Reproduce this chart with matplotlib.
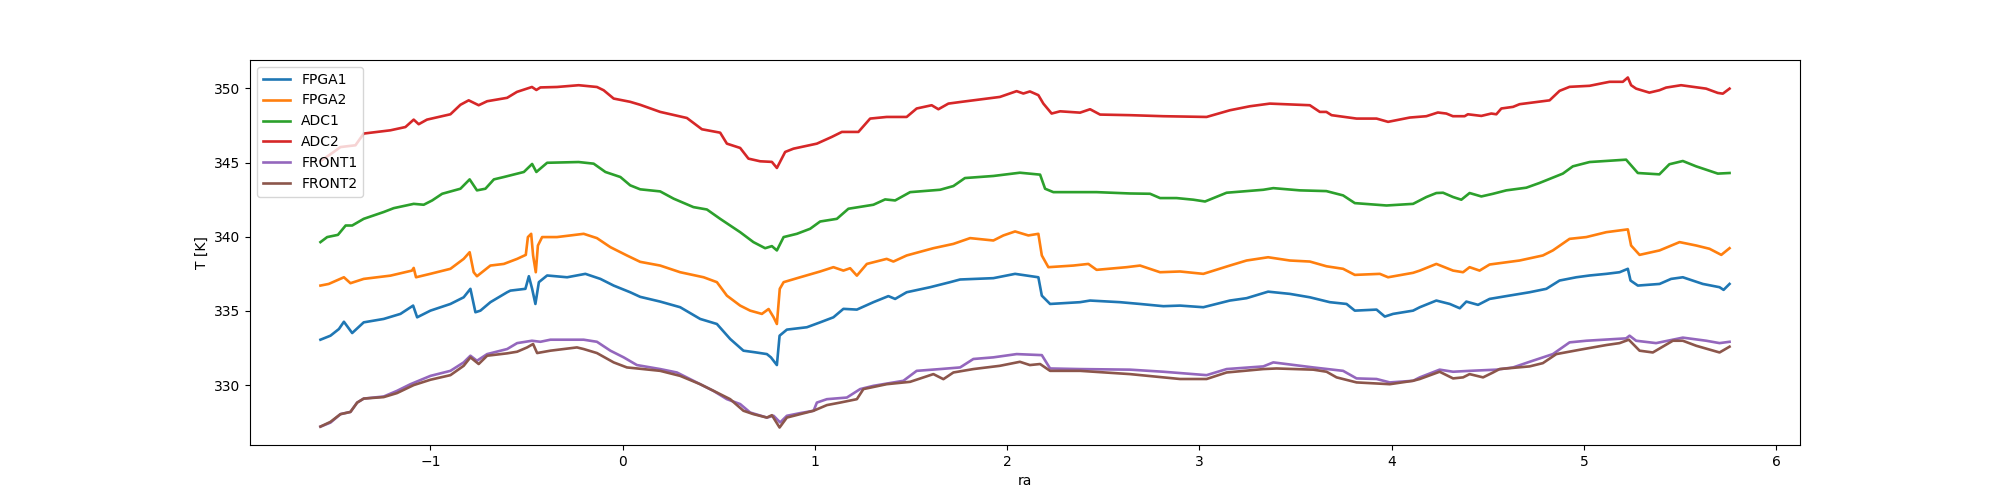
import matplotlib
matplotlib.use("Agg")
import matplotlib.pyplot as plt
import numpy as np

labels = ["FPGA1", "FPGA2", "ADC1", "ADC2", "FRONT1", "FRONT2"]

fpga1 = [(-1.572, 333.06), (-1.52, 333.33), (-1.476, 333.78), (-1.45, 334.27), (-1.407, 333.51),
         (-1.347, 334.23), (-1.243, 334.46), (-1.156, 334.8), (-1.09, 335.36), (-1.069, 334.57),
         (-1.0, 335.02), (-0.896, 335.47), (-0.827, 335.92), (-0.792, 336.49), (-0.766, 334.91),
         (-0.74, 335.02), (-0.688, 335.59), (-0.601, 336.26), (-0.584, 336.37), (-0.506, 336.49),
         (-0.488, 337.34), (-0.471, 336.49), (-0.454, 335.47), (-0.436, 336.94), (-0.393, 337.39),
         (-0.289, 337.27), (-0.194, 337.5), (-0.116, 337.16), (-0.047, 336.71), (0.039, 336.26),
         (0.091, 335.95), (0.195, 335.63), (0.299, 335.25), (0.403, 334.46), (0.49, 334.12),
         (0.559, 333.11), (0.628, 332.32), (0.689, 332.21), (0.75, 332.09), (0.771, 331.87),
         (0.802, 331.35), (0.816, 333.33), (0.854, 333.74), (0.958, 333.9), (1.027, 334.23),
         (1.096, 334.57), (1.148, 335.14), (1.218, 335.09), (1.304, 335.59), (1.382, 336.0),
         (1.417, 335.81), (1.477, 336.26), (1.599, 336.6), (1.703, 336.94), (1.755, 337.12),
         (1.928, 337.21), (2.041, 337.5), (2.162, 337.27), (2.180, 336.03), (2.223, 335.47),
         (2.379, 335.59), (2.431, 335.7), (2.587, 335.59), (2.691, 335.47), (2.812, 335.32),
         (2.899, 335.36), (3.020, 335.25), (3.158, 335.7), (3.245, 335.86), (3.357, 336.3),
         (3.47, 336.15), (3.574, 335.92), (3.678, 335.59), (3.765, 335.47), (3.808, 335.02),
         (3.921, 335.09), (3.964, 334.62), (4.007, 334.8), (4.111, 335.02), (4.146, 335.25),
         (4.232, 335.7), (4.302, 335.47), (4.354, 335.18), (4.388, 335.63), (4.449, 335.41),
         (4.509, 335.81), (4.596, 336.0), (4.717, 336.26), (4.804, 336.49), (4.873, 337.05),
         (4.960, 337.27), (5.029, 337.39), (5.116, 337.5), (5.185, 337.61), (5.228, 337.84),
         (5.242, 337.05), (5.280, 336.71), (5.393, 336.82), (5.453, 337.16), (5.514, 337.27),
         (5.618, 336.82), (5.705, 336.6), (5.726, 336.42), (5.757, 336.82)]

fpga2 = [(-1.572, 336.71), (-1.529, 336.82), (-1.45, 337.27), (-1.416, 336.87), (-1.347, 337.16),
         (-1.208, 337.38), (-1.096, 337.72), (-1.087, 337.9), (-1.075, 337.27), (-1.001, 337.5),
         (-0.896, 337.84), (-0.827, 338.51), (-0.796, 338.96), (-0.775, 337.61), (-0.758, 337.34),
         (-0.688, 338.06), (-0.618, 338.17), (-0.549, 338.51), (-0.504, 338.78), (-0.493, 339.98),
         (-0.476, 340.2), (-0.466, 338.74), (-0.452, 337.61), (-0.441, 339.41), (-0.419, 339.98),
         (-0.342, 339.98), (-0.272, 340.09), (-0.203, 340.2), (-0.134, 339.91), (-0.064, 339.3),
         (0.022, 338.74), (0.091, 338.31), (0.195, 338.06), (0.299, 337.61), (0.421, 337.27),
         (0.49, 336.94), (0.542, 336.03), (0.611, 335.36), (0.663, 335.02), (0.724, 334.8),
         (0.759, 335.13), (0.785, 334.57), (0.802, 334.12), (0.817, 336.49), (0.837, 336.94),
         (0.923, 337.27), (1.027, 337.66), (1.096, 337.95), (1.148, 337.72), (1.183, 337.88),
         (1.218, 337.38), (1.27, 338.17), (1.373, 338.51), (1.408, 338.33), (1.477, 338.74),
         (1.616, 339.23), (1.72, 339.52), (1.807, 339.91), (1.928, 339.75), (1.98, 340.09),
         (2.041, 340.36), (2.11, 340.09), (2.162, 340.2), (2.180, 338.74), (2.214, 337.95),
         (2.344, 338.06), (2.422, 338.17), (2.465, 337.77), (2.621, 337.95), (2.691, 338.06),
         (2.795, 337.61), (2.899, 337.66), (3.02, 337.5), (3.158, 338.06), (3.245, 338.4),
         (3.357, 338.62), (3.470, 338.4), (3.574, 338.33), (3.661, 338.01), (3.747, 337.84),
         (3.808, 337.43), (3.938, 337.5), (3.981, 337.27), (4.111, 337.57), (4.146, 337.72),
         (4.232, 338.17), (4.319, 337.72), (4.371, 337.61), (4.405, 337.95), (4.457, 337.72),
         (4.509, 338.13), (4.665, 338.4), (4.786, 338.74), (4.838, 339.08), (4.925, 339.86),
         (5.012, 339.98), (5.116, 340.31), (5.228, 340.5), (5.245, 339.41), (5.289, 338.78),
         (5.393, 339.08), (5.497, 339.64), (5.584, 339.41), (5.653, 339.19), (5.714, 338.78),
         (5.757, 339.23)]

adc1 = [(-1.572, 339.64), (-1.537, 339.98), (-1.481, 340.13), (-1.441, 340.76), (-1.407, 340.76),
        (-1.347, 341.21), (-1.243, 341.67), (-1.191, 341.93), (-1.087, 342.22), (-1.035, 342.16),
        (-0.991, 342.45), (-0.939, 342.9), (-0.844, 343.24), (-0.796, 343.87), (-0.758, 343.13),
        (-0.714, 343.24), (-0.670, 343.87), (-0.618, 344.03), (-0.514, 344.37), (-0.471, 344.91),
        (-0.449, 344.37), (-0.393, 344.99), (-0.229, 345.04), (-0.151, 344.93), (-0.090, 344.37),
        (-0.012, 344.03), (0.039, 343.47), (0.091, 343.2), (0.195, 343.06), (0.265, 342.57),
        (0.368, 342.0), (0.438, 341.84), (0.507, 341.21), (0.611, 340.31), (0.68, 339.64),
        (0.741, 339.23), (0.776, 339.37), (0.802, 339.08), (0.837, 339.98), (0.906, 340.2),
        (0.975, 340.54), (1.027, 341.03), (1.114, 341.21), (1.174, 341.89), (1.304, 342.16),
        (1.365, 342.52), (1.417, 342.45), (1.495, 343.01), (1.651, 343.17), (1.72, 343.42),
        (1.78, 343.96), (1.928, 344.1), (2.066, 344.32), (2.171, 344.19), (2.197, 343.24),
        (2.240, 343.01), (2.465, 343.01), (2.639, 342.92), (2.743, 342.9), (2.795, 342.61),
        (2.881, 342.61), (2.968, 342.5), (3.029, 342.38), (3.141, 342.97), (3.332, 343.17),
        (3.384, 343.28), (3.522, 343.13), (3.660, 343.08), (3.747, 342.79), (3.808, 342.27),
        (3.973, 342.11), (4.111, 342.22), (4.180, 342.68), (4.232, 342.95), (4.267, 342.97),
        (4.319, 342.68), (4.362, 342.5), (4.405, 342.95), (4.466, 342.72), (4.527, 342.9),
        (4.596, 343.13), (4.700, 343.31), (4.769, 343.63), (4.890, 344.26), (4.942, 344.75),
        (5.029, 345.04), (5.219, 345.2), (5.280, 344.3), (5.392, 344.21), (5.444, 344.89),
        (5.514, 345.11), (5.583, 344.75), (5.696, 344.26), (5.757, 344.3)]

adc2 = [(-1.572, 345.1), (-1.503, 345.72), (-1.468, 346.05), (-1.390, 346.17), (-1.347, 346.96),
        (-1.208, 347.18), (-1.130, 347.4), (-1.087, 347.9), (-1.061, 347.59), (-1.018, 347.9),
        (-0.896, 348.26), (-0.844, 348.9), (-0.801, 349.2), (-0.749, 348.87), (-0.705, 349.14),
        (-0.601, 349.37), (-0.550, 349.77), (-0.472, 350.1), (-0.449, 349.9), (-0.428, 350.07),
        (-0.342, 350.1), (-0.229, 350.22), (-0.134, 350.1), (-0.099, 349.88), (-0.047, 349.32),
        (0.039, 349.1), (0.091, 348.9), (0.195, 348.42), (0.334, 348.01), (0.412, 347.25),
        (0.507, 347.02), (0.542, 346.28), (0.611, 345.99), (0.654, 345.27), (0.715, 345.09),
        (0.776, 345.05), (0.802, 344.64), (0.845, 345.72), (0.888, 345.94), (1.01, 346.28),
        (1.087, 346.73), (1.14, 347.07), (1.226, 347.07), (1.287, 347.97), (1.373, 348.08),
        (1.477, 348.08), (1.529, 348.65), (1.607, 348.87), (1.642, 348.6), (1.694, 348.98),
        (1.763, 349.1), (1.962, 349.43), (2.049, 349.82), (2.084, 349.66), (2.118, 349.8),
        (2.162, 349.55), (2.188, 348.98), (2.231, 348.31), (2.275, 348.46), (2.379, 348.37),
        (2.431, 348.6), (2.483, 348.24), (2.639, 348.2), (2.812, 348.13), (3.037, 348.08),
        (3.158, 348.53), (3.262, 348.8), (3.366, 348.98), (3.574, 348.87), (3.626, 348.42),
        (3.660, 348.42), (3.687, 348.2), (3.817, 347.97), (3.921, 347.97), (3.981, 347.75),
        (4.094, 348.04), (4.180, 348.13), (4.240, 348.38), (4.284, 348.31), (4.318, 348.13),
        (4.379, 348.13), (4.396, 348.26), (4.466, 348.15), (4.518, 348.31), (4.544, 348.26),
        (4.570, 348.65), (4.631, 348.76), (4.665, 348.94), (4.821, 349.2), (4.873, 349.84),
        (4.925, 350.11), (5.029, 350.18), (5.090, 350.34), (5.133, 350.45), (5.202, 350.45),
        (5.228, 350.74), (5.245, 350.22), (5.271, 349.99), (5.340, 349.72), (5.392, 349.88),
        (5.427, 350.06), (5.505, 350.22), (5.635, 349.99), (5.696, 349.7), (5.722, 349.65),
        (5.757, 349.99)]

front1 = [(-1.572, 327.2), (-1.52, 327.47), (-1.468, 328.04), (-1.416, 328.19), (-1.381, 328.82),
          (-1.347, 329.09), (-1.243, 329.23), (-1.174, 329.61), (-1.104, 330.06), (-1.0, 330.62),
          (-0.896, 330.96), (-0.827, 331.53), (-0.792, 331.98), (-0.758, 331.64), (-0.705, 332.09),
          (-0.601, 332.43), (-0.549, 332.83), (-0.472, 332.99), (-0.428, 332.92), (-0.376, 333.06),
          (-0.203, 333.06), (-0.134, 332.92), (-0.064, 332.32), (0.005, 331.87), (0.074, 331.35),
          (0.195, 331.08), (0.282, 330.85), (0.368, 330.29), (0.472, 329.61), (0.542, 329.05),
          (0.611, 328.72), (0.663, 328.15), (0.75, 327.81), (0.785, 327.93), (0.819, 327.48),
          (0.854, 327.93), (0.923, 328.11), (0.993, 328.27), (1.01, 328.82), (1.062, 329.05),
          (1.166, 329.16), (1.235, 329.73), (1.304, 329.95), (1.460, 330.29), (1.529, 330.96),
          (1.651, 331.08), (1.755, 331.19), (1.824, 331.76), (1.928, 331.87), (2.049, 332.09),
          (2.180, 332.02), (2.223, 331.12), (2.379, 331.08), (2.639, 331.04), (2.812, 330.9),
          (3.037, 330.67), (3.141, 331.08), (3.332, 331.26), (3.384, 331.53), (3.592, 331.19),
          (3.747, 330.96), (3.817, 330.45), (3.921, 330.41), (3.990, 330.18), (4.111, 330.29),
          (4.146, 330.52), (4.249, 331.04), (4.319, 330.9), (4.405, 330.96), (4.544, 331.04),
          (4.631, 331.19), (4.717, 331.57), (4.838, 332.09), (4.925, 332.88), (5.012, 332.99),
          (5.219, 333.15), (5.237, 333.33), (5.271, 332.99), (5.375, 332.83), (5.514, 333.2),
          (5.636, 332.99), (5.705, 332.83), (5.757, 332.92)]

front2 = [(-1.572, 327.2), (-1.52, 327.52), (-1.468, 328.04), (-1.416, 328.19), (-1.381, 328.82),
          (-1.347, 329.09), (-1.243, 329.19), (-1.174, 329.46), (-1.087, 330.0), (-1.0, 330.36),
          (-0.896, 330.67), (-0.827, 331.3), (-0.792, 331.87), (-0.749, 331.42), (-0.705, 331.98),
          (-0.601, 332.14), (-0.549, 332.25), (-0.497, 332.54), (-0.466, 332.77), (-0.445, 332.16),
          (-0.376, 332.32), (-0.238, 332.54), (-0.203, 332.43), (-0.134, 332.16), (-0.047, 331.53),
          (0.022, 331.19), (0.091, 331.1), (0.195, 330.96), (0.299, 330.62), (0.403, 330.06),
          (0.49, 329.5), (0.559, 329.05), (0.628, 328.27), (0.68, 328.04), (0.75, 327.81),
          (0.776, 327.97), (0.816, 327.14), (0.854, 327.81), (0.923, 328.04), (0.993, 328.27),
          (1.062, 328.65), (1.131, 328.82), (1.218, 329.05), (1.252, 329.73), (1.373, 330.06),
          (1.495, 330.22), (1.616, 330.74), (1.668, 330.4), (1.72, 330.85), (1.824, 331.08),
          (1.962, 331.3), (2.066, 331.57), (2.118, 331.35), (2.171, 331.42), (2.223, 330.96),
          (2.379, 330.96), (2.639, 330.74), (2.812, 330.52), (2.899, 330.41), (3.037, 330.41),
          (3.141, 330.85), (3.332, 331.08), (3.401, 331.12), (3.592, 331.04), (3.661, 330.9),
          (3.713, 330.52), (3.817, 330.18), (3.990, 330.06), (4.111, 330.29), (4.146, 330.41),
          (4.249, 330.9), (4.319, 330.45), (4.371, 330.52), (4.405, 330.74), (4.475, 330.52),
          (4.527, 330.85), (4.561, 331.08), (4.717, 331.26), (4.786, 331.48), (4.856, 332.09),
          (4.977, 332.38), (5.046, 332.54), (5.116, 332.7), (5.185, 332.83), (5.233, 333.06),
          (5.289, 332.32), (5.358, 332.2), (5.462, 332.99), (5.514, 332.99), (5.584, 332.65),
          (5.705, 332.2), (5.757, 332.59)]

series = [fpga1, fpga2, adc1, adc2, front1, front2]

fig, ax = plt.subplots(figsize=(20, 5), dpi=100)
for data, lab in zip(series, labels):
    arr = np.array(data)
    ax.plot(arr[:, 0], arr[:, 1], label=lab, linewidth=1.9)

ax.set_xlabel("ra")
ax.set_ylabel("T [K]")
ax.legend(loc="upper left")
fig.savefig("out.png", dpi=100)
